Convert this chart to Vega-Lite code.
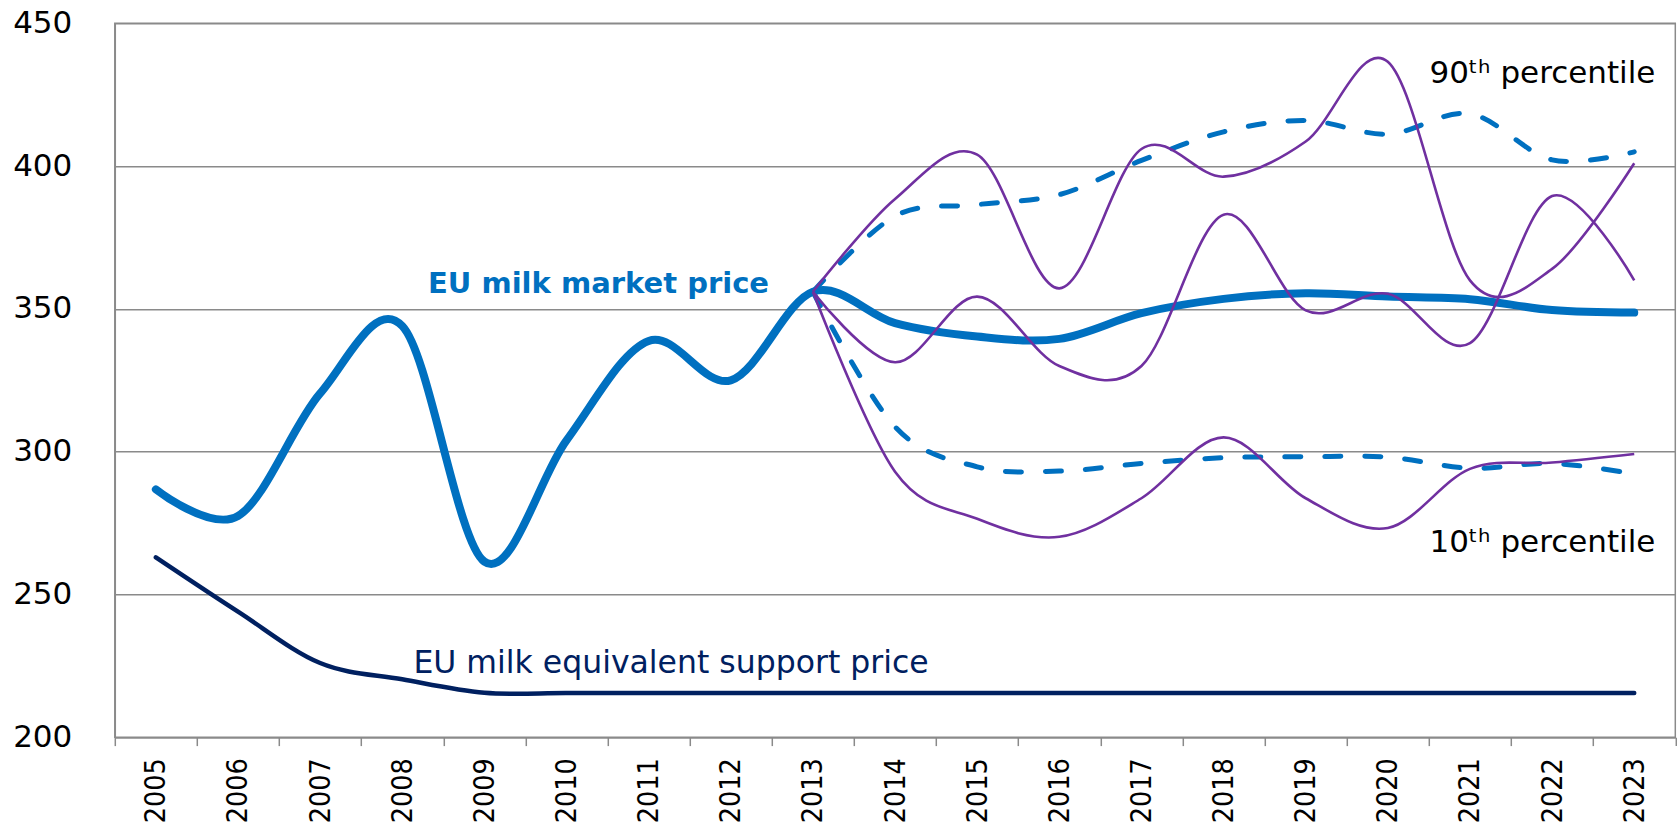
{
  "$schema": "https://vega.github.io/schema/vega-lite/v6.json",
  "autosize": {"type": "none"},
  "padding": {"left": 114.8, "top": 23.3, "right": 1.7, "bottom": 85.7},
  "width": 1560.5,
  "height": 714,
  "background": "white",
  "config": {
    "view": {"stroke": "#8a8a8a", "strokeWidth": 1.5},
    "font": "DejaVu Sans"
  },
  "datasets": {
    "series": [
      {"year": 2005, "series": "EU milk market price", "value": 286.8},
      {"year": 2006, "series": "EU milk market price", "value": 277.5},
      {"year": 2007, "series": "EU milk market price", "value": 320.4},
      {"year": 2008, "series": "EU milk market price", "value": 344},
      {"year": 2009, "series": "EU milk market price", "value": 261.5},
      {"year": 2010, "series": "EU milk market price", "value": 304},
      {"year": 2011, "series": "EU milk market price", "value": 338.8},
      {"year": 2012, "series": "EU milk market price", "value": 325},
      {"year": 2013, "series": "EU milk market price", "value": 356},
      {"year": 2014, "series": "EU milk market price", "value": 345},
      {"year": 2015, "series": "EU milk market price", "value": 340.3},
      {"year": 2016, "series": "EU milk market price", "value": 339.5},
      {"year": 2017, "series": "EU milk market price", "value": 348.5},
      {"year": 2018, "series": "EU milk market price", "value": 353.5},
      {"year": 2019, "series": "EU milk market price", "value": 355.5},
      {"year": 2020, "series": "EU milk market price", "value": 354.3},
      {"year": 2021, "series": "EU milk market price", "value": 353.4},
      {"year": 2022, "series": "EU milk market price", "value": 349.6},
      {"year": 2023, "series": "EU milk market price", "value": 348.7},
      {"year": 2005, "series": "EU milk equivalent support price", "value": 263},
      {"year": 2006, "series": "EU milk equivalent support price", "value": 244},
      {"year": 2007, "series": "EU milk equivalent support price", "value": 226},
      {"year": 2008, "series": "EU milk equivalent support price", "value": 220.3},
      {"year": 2009, "series": "EU milk equivalent support price", "value": 215.6},
      {"year": 2010, "series": "EU milk equivalent support price", "value": 215.5},
      {"year": 2011, "series": "EU milk equivalent support price", "value": 215.5},
      {"year": 2012, "series": "EU milk equivalent support price", "value": 215.5},
      {"year": 2013, "series": "EU milk equivalent support price", "value": 215.5},
      {"year": 2014, "series": "EU milk equivalent support price", "value": 215.5},
      {"year": 2015, "series": "EU milk equivalent support price", "value": 215.5},
      {"year": 2016, "series": "EU milk equivalent support price", "value": 215.5},
      {"year": 2017, "series": "EU milk equivalent support price", "value": 215.5},
      {"year": 2018, "series": "EU milk equivalent support price", "value": 215.5},
      {"year": 2019, "series": "EU milk equivalent support price", "value": 215.5},
      {"year": 2020, "series": "EU milk equivalent support price", "value": 215.5},
      {"year": 2021, "series": "EU milk equivalent support price", "value": 215.5},
      {"year": 2022, "series": "EU milk equivalent support price", "value": 215.5},
      {"year": 2023, "series": "EU milk equivalent support price", "value": 215.5},
      {"year": 2013, "series": "90th percentile", "value": 356},
      {"year": 2014, "series": "90th percentile", "value": 382.5},
      {"year": 2015, "series": "90th percentile", "value": 386.5},
      {"year": 2016, "series": "90th percentile", "value": 390},
      {"year": 2017, "series": "90th percentile", "value": 402},
      {"year": 2018, "series": "90th percentile", "value": 412},
      {"year": 2019, "series": "90th percentile", "value": 416},
      {"year": 2020, "series": "90th percentile", "value": 411.2},
      {"year": 2021, "series": "90th percentile", "value": 418.3},
      {"year": 2022, "series": "90th percentile", "value": 402.2},
      {"year": 2023, "series": "90th percentile", "value": 405},
      {"year": 2013, "series": "10th percentile", "value": 356},
      {"year": 2014, "series": "10th percentile", "value": 308.7},
      {"year": 2015, "series": "10th percentile", "value": 294.7},
      {"year": 2016, "series": "10th percentile", "value": 293.2},
      {"year": 2017, "series": "10th percentile", "value": 295.9},
      {"year": 2018, "series": "10th percentile", "value": 297.9},
      {"year": 2019, "series": "10th percentile", "value": 298.2},
      {"year": 2020, "series": "10th percentile", "value": 298.1},
      {"year": 2021, "series": "10th percentile", "value": 294.2},
      {"year": 2022, "series": "10th percentile", "value": 295.9},
      {"year": 2023, "series": "10th percentile", "value": 292.2},
      {"year": 2013, "series": "Simulation A", "value": 356},
      {"year": 2014, "series": "Simulation A", "value": 388.5},
      {"year": 2015, "series": "Simulation A", "value": 404},
      {"year": 2016, "series": "Simulation A", "value": 357.2},
      {"year": 2017, "series": "Simulation A", "value": 406},
      {"year": 2018, "series": "Simulation A", "value": 396.3},
      {"year": 2019, "series": "Simulation A", "value": 408.6},
      {"year": 2020, "series": "Simulation A", "value": 436.5},
      {"year": 2021, "series": "Simulation A", "value": 360},
      {"year": 2022, "series": "Simulation A", "value": 364},
      {"year": 2023, "series": "Simulation A", "value": 401},
      {"year": 2013, "series": "Simulation B", "value": 356},
      {"year": 2014, "series": "Simulation B", "value": 331.3},
      {"year": 2015, "series": "Simulation B", "value": 354.3},
      {"year": 2016, "series": "Simulation B", "value": 330},
      {"year": 2017, "series": "Simulation B", "value": 330},
      {"year": 2018, "series": "Simulation B", "value": 383},
      {"year": 2019, "series": "Simulation B", "value": 349.5},
      {"year": 2020, "series": "Simulation B", "value": 355.3},
      {"year": 2021, "series": "Simulation B", "value": 338},
      {"year": 2022, "series": "Simulation B", "value": 389.5},
      {"year": 2023, "series": "Simulation B", "value": 360},
      {"year": 2013, "series": "Simulation C", "value": 356},
      {"year": 2014, "series": "Simulation C", "value": 293},
      {"year": 2015, "series": "Simulation C", "value": 276.5},
      {"year": 2016, "series": "Simulation C", "value": 270.2},
      {"year": 2017, "series": "Simulation C", "value": 283.7},
      {"year": 2018, "series": "Simulation C", "value": 305},
      {"year": 2019, "series": "Simulation C", "value": 283.7},
      {"year": 2020, "series": "Simulation C", "value": 273.3},
      {"year": 2021, "series": "Simulation C", "value": 294},
      {"year": 2022, "series": "Simulation C", "value": 296.2},
      {"year": 2023, "series": "Simulation C", "value": 299.2}
    ],
    "labels": [
      {"label": "EU milk market price", "year": 2010, "value": 355.5},
      {"label": "EU milk equivalent support price", "year": 2009, "value": 222.6},
      {"label": "90ᵗʰ percentile", "year": 2022, "value": 429},
      {"label": "10ᵗʰ percentile", "year": 2022, "value": 265}
    ]
  },
  "encoding": {
    "x": {
      "field": "year",
      "type": "ordinal",
      "bandPosition": 0.5,
      "scale": {"type": "band", "paddingInner": 0, "paddingOuter": 0, "domain": [2005, 2006, 2007, 2008, 2009, 2010, 2011, 2012, 2013, 2014, 2015, 2016, 2017, 2018, 2019, 2020, 2021, 2022, 2023]},
      "axis": {
        "title": null,
        "labelAngle": 270,
        "labelFont": "DejaVu Sans Condensed, Liberation Sans Narrow, DejaVu Sans",
        "labelFontSize": 28.5,
        "labelColor": "#000000",
        "labelPadding": 12,
        "tickBand": "extent",
        "tickSize": 8.3,
        "tickColor": "#8a8a8a",
        "tickWidth": 1.5,
        "domainColor": "#8a8a8a",
        "domainWidth": 1.5,
        "grid": false
      }
    },
    "y": {
      "field": "value",
      "type": "quantitative",
      "scale": {"domain": [200, 450], "nice": false, "zero": false},
      "axis": {
        "title": null,
        "values": [200, 250, 300, 350, 400, 450],
        "labelFont": "DejaVu Sans",
        "labelFontSize": 31,
        "labelColor": "#000000",
        "labelPadding": 43,
        "ticks": false,
        "domainColor": "#8a8a8a",
        "domainWidth": 1.5,
        "grid": true,
        "gridColor": "#8a8a8a",
        "gridWidth": 1.5
      }
    }
  },
  "layer": [
    {
      "data": {"name": "series"},
      "transform": [{"filter": "datum.series === 'EU milk market price'"}],
      "mark": {"type": "line", "interpolate": "cardinal", "color": "#0070C0", "strokeWidth": 8, "strokeCap": "round", "strokeJoin": "round"}
    },
    {
      "data": {"name": "series"},
      "transform": [{"filter": "datum.series === '90th percentile' || datum.series === '10th percentile'"}],
      "mark": {"type": "line", "interpolate": "cardinal", "color": "#0070C0", "strokeWidth": 5, "strokeDash": [16, 24], "strokeCap": "round"},
      "encoding": {"detail": {"field": "series", "type": "nominal"}}
    },
    {
      "data": {"name": "series"},
      "transform": [{"filter": "indexof(datum.series, 'Simulation') === 0"}],
      "mark": {"type": "line", "interpolate": "cardinal", "color": "#7030A0", "strokeWidth": 2.6},
      "encoding": {"detail": {"field": "series", "type": "nominal"}}
    },
    {
      "data": {"name": "series"},
      "transform": [{"filter": "datum.series === 'EU milk equivalent support price'"}],
      "mark": {"type": "line", "interpolate": "cardinal", "color": "#002060", "strokeWidth": 4.5, "strokeCap": "round"}
    },
    {
      "data": {"name": "labels"},
      "transform": [{"filter": "datum.label === 'EU milk market price'"}],
      "mark": {"type": "text", "align": "center", "baseline": "alphabetic", "dx": 32, "font": "DejaVu Sans", "fontWeight": "bold", "fontSize": 29, "color": "#0070C0"},
      "encoding": {"text": {"field": "label"}}
    },
    {
      "data": {"name": "labels"},
      "transform": [{"filter": "datum.label === 'EU milk equivalent support price'"}],
      "mark": {"type": "text", "align": "left", "baseline": "alphabetic", "dx": -71, "font": "DejaVu Sans", "fontSize": 31.5, "color": "#002060"},
      "encoding": {"text": {"field": "label"}}
    },
    {
      "data": {"name": "labels"},
      "transform": [{"filter": "indexof(datum.label, 'percentile') > 0"}],
      "mark": {"type": "text", "align": "center", "baseline": "alphabetic", "dx": -9.7, "font": "DejaVu Sans", "fontSize": 31, "color": "#000000"},
      "encoding": {"text": {"field": "label"}}
    }
  ]
}
